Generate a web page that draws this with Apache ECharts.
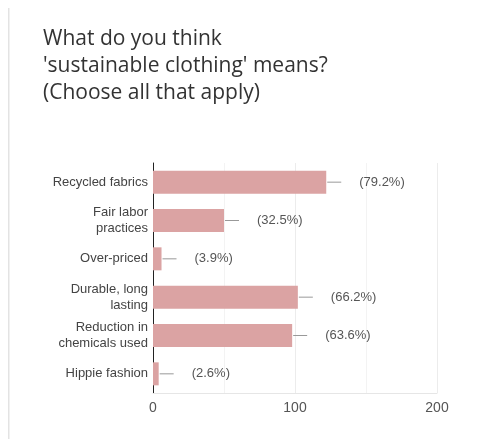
<!DOCTYPE html>
<html>
<head>
<meta charset="utf-8">
<script src="https://cdn.jsdelivr.net/npm/echarts@6/dist/echarts.min.js"></script>
<style>html,body{margin:0;padding:0;background:#fff;}#c{width:490px;height:439px;}</style>
</head>
<body>
<div id="c"></div>
<script>
const titleText = "What do you think\n'sustainable clothing' means?\n(Choose all that apply)";
const categories = ["Recycled fabrics", "Fair labor\npractices", "Over-priced", "Durable, long\nlasting", "Reduction in\nchemicals used", "Hippie fashion"];
const counts = [122, 50, 6, 102, 98, 4];
const percents = ["79.2%", "32.5%", "3.9%", "66.2%", "63.6%", "2.6%"];
const xTicks = [0, 100, 200];

const chart = echarts.init(document.getElementById('c'), null, {renderer: 'canvas'});
chart.setOption({
  backgroundColor: '#fff',
  animation: false,
  title: {
    text: titleText,
    left: 38, top: 21,
    textStyle: {fontFamily: 'Open Sans', fontSize: 21, fontWeight: 'normal', color: '#333', lineHeight: 27}
  },
  graphic: [{type: 'rect', shape: {x: 8, y: 8, width: 1.5, height: 431}, style: {fill: '#e3e3e3'}, silent: true}],
  grid: {left: 153, right: 53, top: 163, bottom: 46, containLabel: false},
  xAxis: {
    type: 'value', min: xTicks[0], max: xTicks[xTicks.length - 1], interval: 100,
    axisLine: {show: true, lineStyle: {color: '#e6e6e6'}},
    axisTick: {show: false},
    axisLabel: {color: '#555', fontSize: 14, fontFamily: 'Liberation Sans', margin: 8},
    splitLine: {show: true, lineStyle: {color: '#ececec'}},
    minorTick: {show: false, splitNumber: 2},
    minorSplitLine: {show: true, lineStyle: {color: '#f3f3f3'}}
  },
  yAxis: {
    type: 'category', data: categories, inverse: true,
    axisLine: {show: true, lineStyle: {color: '#222', width: 1}},
    axisTick: {show: false},
    axisLabel: {color: '#444', fontSize: 13, fontFamily: 'Liberation Sans', lineHeight: 16, margin: 5, align: 'right'}
  },
  series: [{
    type: 'bar',
    data: counts,
    barCategoryGap: '40%',
    itemStyle: {color: '#dba3a3'},
    label: {
      show: true, position: 'right', distance: 33,
      formatter: p => '(' + percents[p.dataIndex] + ')',
      color: '#555', fontSize: 13, fontFamily: 'Liberation Sans'
    },
    z: 2
  }, {
    type: 'custom',
    data: counts.map((v, i) => [v, i]),
    encode: {x: 0, y: 1},
    renderItem: function (params, api) {
      const p = api.coord([api.value(0), api.value(1)]);
      return {type: 'line', shape: {x1: p[0] + 1, y1: p[1], x2: p[0] + 15, y2: p[1]}, style: {stroke: '#999', lineWidth: 1}};
    },
    silent: true, z: 3
  }]
});
</script>
</body>
</html>
